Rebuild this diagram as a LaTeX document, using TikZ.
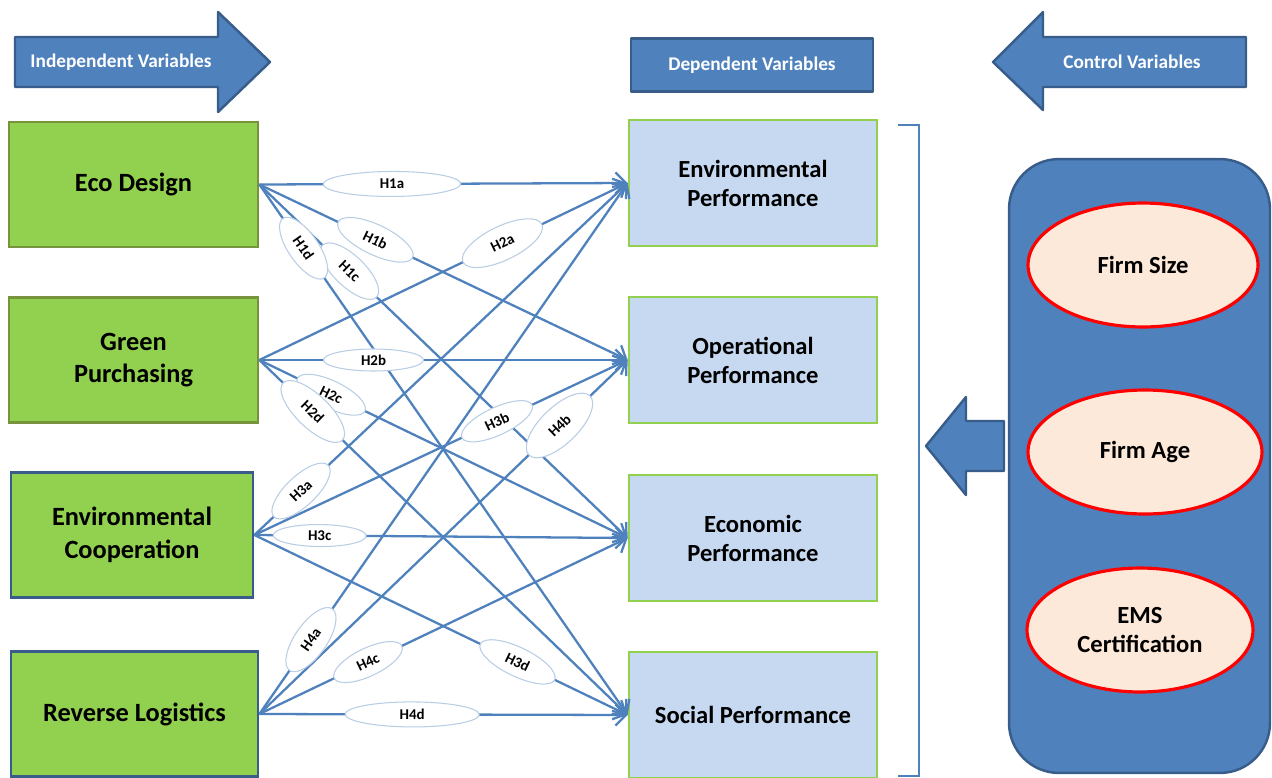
\documentclass[tikz,border=0pt]{standalone}
\usepackage{fontspec}
\setmainfont{Carlito}
\usetikzlibrary{arrows.meta,shapes.geometric}
\definecolor{ppblue}{HTML}{4F81BD}
\definecolor{ppdark}{HTML}{385D8A}
\definecolor{ppgreen}{HTML}{92D050}
\definecolor{ppolive}{HTML}{77933C}
\definecolor{pplight}{HTML}{C6D9F1}
\definecolor{pppeach}{HTML}{FDE9D9}
\definecolor{ppgrey}{HTML}{B9CDE5}
\tikzset{
  indep/.style={draw=ppolive,fill=ppgreen,line width=1.6pt,minimum width=4.98cm,minimum height=2.5cm,
    align=center,font=\fontsize{15}{18.5}\selectfont\bfseries},
  depbox/.style={draw=ppgreen,fill=pplight,line width=1.6pt,minimum width=4.96cm,minimum height=2.52cm,
    align=center,font=\fontsize{14}{16.5}\selectfont\bfseries},
  banner/.style={draw=ppdark,fill=ppblue,line width=1.4pt,line join=round},
  bannertext/.style={text=white,font=\fontsize{11}{13}\selectfont\bfseries},
  ctrlvar/.style={ellipse,draw=red,fill=pppeach,line width=1.8pt,minimum height=2.48cm,
    align=center,font=\fontsize{14}{16.5}\selectfont\bfseries},
  link/.style={ppblue,line width=1.3pt,-{Straight Barb[length=6pt,width=12pt]}},
  hyp/.style={ellipse,draw=ppgrey,fill=white,line width=.6pt,inner sep=0pt,sloped,
    font=\fontsize{8.5}{10}\selectfont\bfseries}
}
\begin{document}
\begin{tikzpicture}[x=0.02cm,y=-0.02cm]
\useasboundingbox (0,0) rectangle (1272,778);
% banners
\draw[banner] (15,37)--(218,37)--(218,12)--(270,62)--(218,112)--(218,87)--(15,87)--cycle;
\node[bannertext] (indeplbl) at (121,62) {Independent Variables};
\node[banner,minimum width=4.84cm,minimum height=1.06cm] (deplbl) at (752,65) {};
\node[bannertext] at (deplbl) {Dependent Variables};
\draw[banner] (1246,37)--(1043,37)--(1043,12)--(993,62)--(1043,110)--(1043,87)--(1246,87)--cycle;
\node[bannertext] (ctrllbl) at (1132,62) {Control Variables};
% variables
\node[indep] (eco) at (133.5,184.5) {Eco Design};
\node[indep] (gp) at (133.5,360) {Green\\Purchasing};
\node[indep,draw=ppdark,minimum width=4.84cm] (ec) at (132,535) {Environmental\\Cooperation};
\node[indep,draw=ppdark,minimum width=4.94cm] (rl) at (134.5,714) {Reverse Logistics};
\node[depbox] (envp) at (753,183) {Environmental\\Performance};
\node[depbox] (opp) at (753,360) {Operational\\Performance};
\node[depbox] (ecop) at (753,538) {Economic\\Performance};
\node[depbox] (socp) at (753,715) {Social Performance};
\foreach \s in {eco,gp,ec,rl}
  \foreach \t in {envp,opp,ecop,socp}
    \draw[link] (\s.east) -- (\t.west);
\foreach \s/\t/\p/\w/\h/\l in {eco/envp/.36/2.75/.5/H1a, eco/opp/.315/1.65/.6/H1b,
    eco/ecop/.245/1.5/.62/H1c, eco/socp/.12/1.45/.6/H1d, gp/envp/.66/1.75/.68/H2a,
    gp/opp/.31/2.0/.44/H2b, gp/ecop/.195/1.5/.55/H2c, gp/socp/.145/1.65/.66/H2d,
    ec/envp/.125/1.5/.6/H3a, ec/opp/.65/1.55/.55/H3b, ec/ecop/.175/1.86/.44/H3c,
    ec/socp/.705/1.65/.58/H3d, rl/envp/.14/1.5/.64/H4a, rl/opp/.815/1.7/.74/H4b,
    rl/ecop/.295/1.5/.56/H4c, rl/socp/.415/2.68/.5/H4d}
  \path (\s.east) -- node[hyp,pos=\p,minimum width=\w cm,minimum height=\h cm] (\l) {\l} (\t.west);
% bracket and controls
\draw[ppblue,line width=1.4pt] (898,125)--(919,125)--(919,776)--(898,776);
\draw[banner] (1004,421)--(966,421)--(966,397)--(926,446)--(966,495)--(966,471)--(1004,471)--cycle;
\node[banner,rounded corners=1cm,minimum width=5.22cm,minimum height=12.28cm] (ctrlbox) at (1139.5,466) {};
\node[ctrlvar,minimum width=4.6cm] (fsize) at (1143,265) {Firm Size};
\node[ctrlvar,minimum width=4.68cm] (fage) at (1145,452) {Firm Age};
\node[ctrlvar,minimum width=4.52cm] (ems) at (1140,630) {EMS\\Certification};
\end{tikzpicture}
\end{document}
